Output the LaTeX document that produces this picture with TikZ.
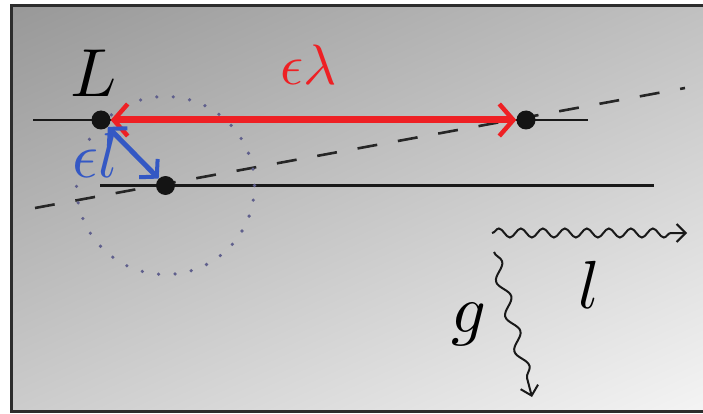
\documentclass[tikz,border=0pt]{standalone}
\usetikzlibrary{decorations.pathmorphing,arrows.meta,shadings}
\definecolor{bgUL}{RGB}{152,152,152}
\definecolor{bgUR}{RGB}{192,192,192}
\definecolor{bgLL}{RGB}{204,204,204}
\definecolor{bgLR}{RGB}{244,244,244}
\definecolor{framec}{RGB}{45,45,45}
\definecolor{redc}{RGB}{238,32,36}
\definecolor{bluec}{RGB}{52,88,196}
\definecolor{dotc}{RGB}{95,95,140}
\newcommand{\myBigMath}[1]{\scalebox{6.8}{$#1$}}
\newcommand{\myMidMath}[1]{\scalebox{5.7}{$#1$}}
\newcommand{\myBlueMath}[1]{\scalebox{6.4}{$#1$}}
\begin{document}
\begin{tikzpicture}[x=1pt,y=-1pt,
  dotnode/.style={circle,fill=black!92,minimum size=19pt,inner sep=0pt},
  txtnode/.style={inner sep=0pt},
  hline/.style={line width=2.8pt,black!90},
  dashline/.style={line width=2.6pt,black!85,dash pattern=on 20pt off 21pt},
  redarrow/.style={line width=7pt,redc,{Straight Barb[length=14pt,width=32pt,line width=4.5pt]}-{Straight Barb[length=14pt,width=32pt,line width=4.5pt]}},
  bluearrow/.style={line width=5pt,bluec,{Straight Barb[length=12pt,width=26pt,line width=4pt]}-{Straight Barb[length=12pt,width=26pt,line width=4pt]}},
  wavy/.style={line width=2pt,black!90,-{Straight Barb[length=9pt,width=18pt]},decorate},
  wavyH/.style={wavy,decoration={snake,amplitude=4.5pt,segment length=22pt,post length=8pt}},
  wavyV/.style={wavy,decoration={snake,amplitude=5.5pt,segment length=36pt,post length=8pt}}]
\useasboundingbox (0,0) rectangle (703,414);
\fill[white] (0,0) rectangle (703,414);
\shade[upper left=bgUL,upper right=bgUR,lower left=bgLL,lower right=bgLR] (11,5) rectangle (703,412);
\draw[line width=3.5pt,framec] (703,5.5) -- (11.5,5.5) -- (11.5,411.5) -- (703,411.5);
% positions
\coordinate (u1) at (33,120);
\coordinate (u2) at (588,120);
\coordinate (d1) at (100,185.5);
\coordinate (d2) at (654,185.5);
\coordinate (s1) at (35,208);
\coordinate (s2) at (685,88);
\coordinate (c0) at (165.5,185.5);
% lines
\draw[hline] (u1) -- (u2);
\draw[hline] (d1) -- (d2);
\draw[dashline] (s1) -- (s2);
\draw[dotc,line width=3.6pt,line cap=round,dash pattern=on 0pt off 16.5pt] (c0) circle[radius=89pt];
% dots
\node[dotnode] (L) at (101,120) {};
\node[dotnode] (R) at (526,120) {};
\node[dotnode] (M) at (c0) {};
% labels
\node[txtnode,anchor=base west] (tL) at (70,97) {\myBigMath{L}};
\node[txtnode,anchor=base west,text=redc] (tlam) at (280,85) {\myMidMath{\epsilon\lambda}};
\node[txtnode,anchor=base west,text=bluec] (tel) at (72,177) {\myBlueMath{\epsilon l}};
% arrows
\draw[redarrow] (L) -- (R);
\draw[bluearrow] (L) -- (M);
% wavy arrows
\coordinate (w0) at (492,233);
\coordinate (w1) at (687,233);
\coordinate (v0) at (494,252);
\coordinate (v1) at (532,397);
\draw[wavyH] (w0) -- (w1);
\draw[wavyV] (v0) -- (v1);
\node[txtnode,anchor=base west] (tg) at (451,332) {\myBigMath{g}};
\node[txtnode,anchor=base west] (tl) at (578,308) {\myBigMath{l}};
\end{tikzpicture}
\end{document}
